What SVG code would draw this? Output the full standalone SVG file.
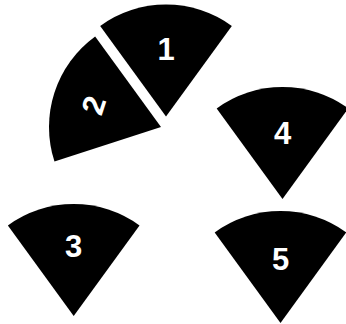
<svg xmlns="http://www.w3.org/2000/svg" width="346" height="324" viewBox="0 0 346 324">
<defs>
<style>
.w{fill:#000;}
.t{fill:#fff;font-family:"Liberation Sans",Arial,sans-serif;font-weight:bold;font-size:31px;text-anchor:middle;}
</style>
<path id="wedge" d="M0,0 L-65.83,-90.61 A112,112 0 0 1 65.83,-90.61 Z"/>
</defs>
<rect width="346" height="324" fill="#fff"/>
<g id="connectors"></g>
<g id="node1" transform="translate(166,116.5)">
<use href="#wedge" class="w"/>
<text class="t" x="0" y="-57">1</text>
</g>
<g id="node2" transform="translate(161,127) rotate(-72)">
<use href="#wedge" class="w"/>
<text class="t" x="0" y="-60">2</text>
</g>
<g id="node3" transform="translate(73.7,316)">
<use href="#wedge" class="w"/>
<text class="t" x="0" y="-59">3</text>
</g>
<g id="node4" transform="translate(282.5,199)">
<use href="#wedge" class="w"/>
<text class="t" x="0" y="-55">4</text>
</g>
<g id="node5" transform="translate(280.5,323)">
<use href="#wedge" class="w"/>
<text class="t" x="0" y="-53">5</text>
</g>
</svg>
